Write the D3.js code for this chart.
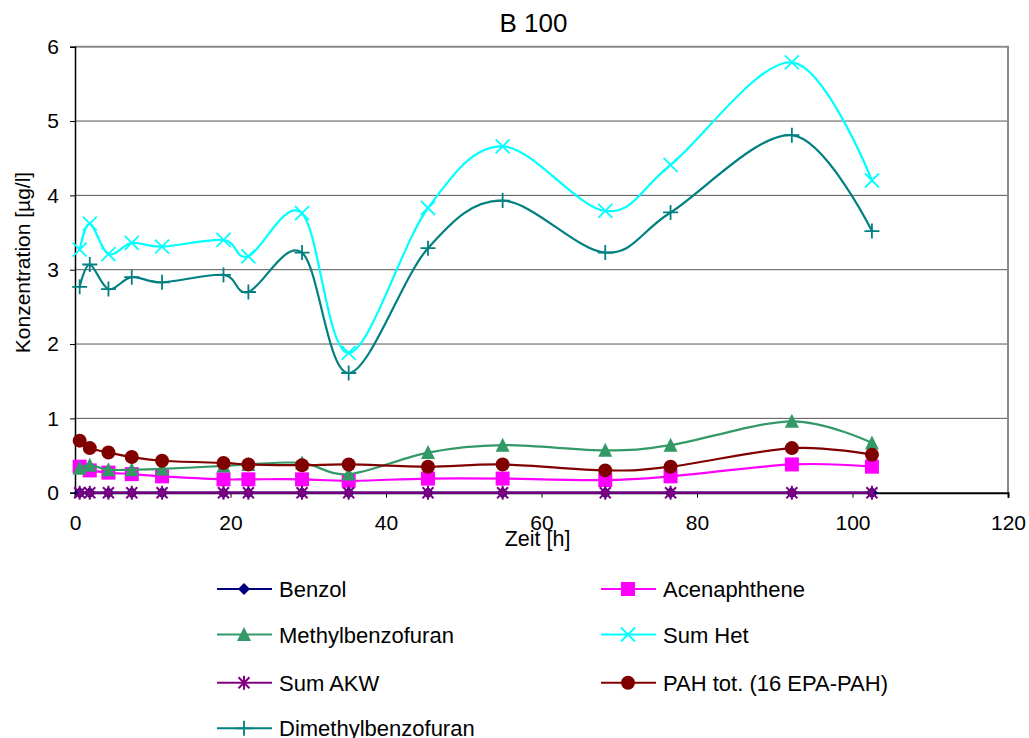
<!DOCTYPE html>
<html><head><meta charset="utf-8">
<script src="https://cdn.jsdelivr.net/npm/d3@7"></script>
<style>body{margin:0;background:#fff}svg{font-family:"Liberation Sans",Arial,sans-serif}</style>
</head><body><svg id="c" width="1029" height="738"></svg>
<script>
const hours = [0.6, 1.9, 4.3, 7.3, 11.2, 19.1, 22.3, 29.2, 35.2, 45.4, 55.0, 68.2, 76.6, 92.2, 102.5];
const benzol = [0,0,0,0,0,0,0,0,0,0,0,0,0,0,0];
const acenaphthene = [0.35,0.30,0.27,0.25,0.22,0.18,0.18,0.18,0.16,0.19,0.19,0.17,0.22,0.38,0.35];
const methylbenzofuran = [0.33,0.37,0.31,0.31,0.32,0.36,0.38,0.40,0.25,0.54,0.64,0.57,0.64,0.96,0.67];
const sumHet = [3.27,3.62,3.21,3.36,3.31,3.40,3.18,3.76,1.88,3.83,4.66,3.79,4.41,5.79,4.20];
const sumAKW = [0,0,0,0,0,0,0,0,0,0,0,0,0,0,0];
const pahTot = [0.70,0.60,0.54,0.48,0.43,0.40,0.38,0.37,0.38,0.35,0.38,0.30,0.35,0.60,0.51];
const dimethylbenzofuran = [2.77,3.07,2.74,2.90,2.83,2.93,2.70,3.23,1.61,3.29,3.93,3.23,3.77,4.81,3.52];
const xTicks = [0,20,40,60,80,100,120];
const yTicks = [0,1,2,3,4,5,6];

const series = [
  {name:"Benzol", values:benzol, color:"#000080", marker:"diamond"},
  {name:"Acenaphthene", values:acenaphthene, color:"#FF00FF", marker:"square"},
  {name:"Methylbenzofuran", values:methylbenzofuran, color:"#339966", marker:"triangle"},
  {name:"Sum Het", values:sumHet, color:"#00FFFF", marker:"x"},
  {name:"Sum AKW", values:sumAKW, color:"#800080", marker:"star"},
  {name:"PAH tot. (16 EPA-PAH)", values:pahTot, color:"#800000", marker:"circle"},
  {name:"Dimethylbenzofuran", values:dimethylbenzofuran, color:"#008080", marker:"plus"}
];

const svg = d3.select("#c");
const L = 75, T = 46.7, W = 933, H = 446;
const x = d3.scaleLinear().domain([0,120]).range([L, L+W]);
const y = d3.scaleLinear().domain([0,6]).range([T+H, T]);

// gridlines
svg.append("g").selectAll("line").data(yTicks.filter(d=>d>0 && d<6)).join("line")
  .attr("x1", L).attr("x2", L+W).attr("y1", d=>y(d)).attr("y2", d=>y(d))
  .attr("stroke", "#555").attr("stroke-width", 1);
// plot border (top/right)
svg.append("path").attr("d", `M${L},${T}H${L+W}V${T+H}`).attr("fill","none").attr("stroke","#8a8a8a").attr("stroke-width",2);

// axes
const xAxis = d3.axisBottom(x).tickValues(xTicks).tickSize(5).tickPadding(17);
const gx = svg.append("g").attr("transform", `translate(0,${T+H})`).call(xAxis);
const yAxis = d3.axisLeft(y).tickValues(yTicks).tickSize(5).tickPadding(11).tickFormat(d3.format("d"));
const gy = svg.append("g").attr("transform", `translate(${L},0)`).call(yAxis);
[gx, gy].forEach(g => {
  g.select(".domain").attr("stroke", "#000").attr("stroke-width", 1.5);
  g.selectAll(".tick line").attr("stroke", "#000");
  g.selectAll(".tick text").attr("font-size", 21).attr("fill", "#000").attr("font-family", "Liberation Sans, Arial, sans-serif");
});
gx.select(".domain").attr("stroke-width", 2);

// titles
svg.append("text").attr("x", 533.5).attr("y", 32.3).attr("text-anchor","middle").attr("font-size", 26).text("B 100");
svg.append("text").attr("x", 537.5).attr("y", 546).attr("text-anchor","middle").attr("font-size", 21.5).text("Zeit [h]");
svg.append("text").attr("transform", `translate(29.5,262.5) rotate(-90)`).attr("text-anchor","middle").attr("font-size", 21).text("Konzentration [µg/l]");

function drawMarker(g, type, color, cx, cy) {
  if (type === "diamond") {
    g.append("path").attr("d", `M${cx},${cy-6}L${cx+6},${cy}L${cx},${cy+6}L${cx-6},${cy}Z`).attr("fill", color);
  } else if (type === "square") {
    g.append("rect").attr("x", cx-7).attr("y", cy-7).attr("width", 14).attr("height", 14).attr("fill", color);
  } else if (type === "triangle") {
    g.append("path").attr("d", `M${cx},${cy-7.5}L${cx+7},${cy+6.5}L${cx-7},${cy+6.5}Z`).attr("fill", color);
  } else if (type === "x") {
    g.append("path").attr("d", `M${cx-7},${cy-7}L${cx+7},${cy+7}M${cx-7},${cy+7}L${cx+7},${cy-7}`).attr("stroke", color).attr("stroke-width", 1.8).attr("fill","none");
  } else if (type === "star") {
    g.append("path").attr("d", `M${cx-5.5},${cy-5.5}L${cx+5.5},${cy+5.5}M${cx-5.5},${cy+5.5}L${cx+5.5},${cy-5.5}M${cx},${cy-7}V${cy+7}`).attr("stroke", color).attr("stroke-width", 2).attr("fill","none");
  } else if (type === "circle") {
    g.append("circle").attr("cx", cx).attr("cy", cy).attr("r", 7).attr("fill", color);
  } else if (type === "plus") {
    g.append("path").attr("d", `M${cx-7.5},${cy}H${cx+7.5}M${cx},${cy-7.5}V${cy+7.5}`).attr("stroke", color).attr("stroke-width", 1.8).attr("fill","none");
  }
}

const line = d3.line().x(d=>x(d[0])).y(d=>y(d[1])).curve(d3.curveCardinal.tension(0));
series.forEach(s => {
  const g = svg.append("g");
  const pts = hours.map((h,i)=>[h, s.values[i]]);
  g.append("path").attr("d", line(pts)).attr("fill","none").attr("stroke", s.color).attr("stroke-width", 2.2);
  pts.forEach(p => drawMarker(g, s.marker, s.color, x(p[0]), y(p[1])));
});

// legend
const legendPos = [
  [217, 589], [601, 589],
  [217, 634.5], [601, 634.5],
  [217, 682.7], [601, 682.7],
  [217, 728.3]
];
series.forEach((s, i) => {
  const [lx, ly] = legendPos[i];
  const g = svg.append("g");
  g.append("line").attr("x1", lx).attr("x2", lx+55).attr("y1", ly).attr("y2", ly).attr("stroke", s.color).attr("stroke-width", 2);
  drawMarker(g, s.marker, s.color, lx+27, ly);
  g.append("text").attr("x", lx+62).attr("y", ly+8).attr("font-size", 22).text(s.name);
});
</script></body></html>
